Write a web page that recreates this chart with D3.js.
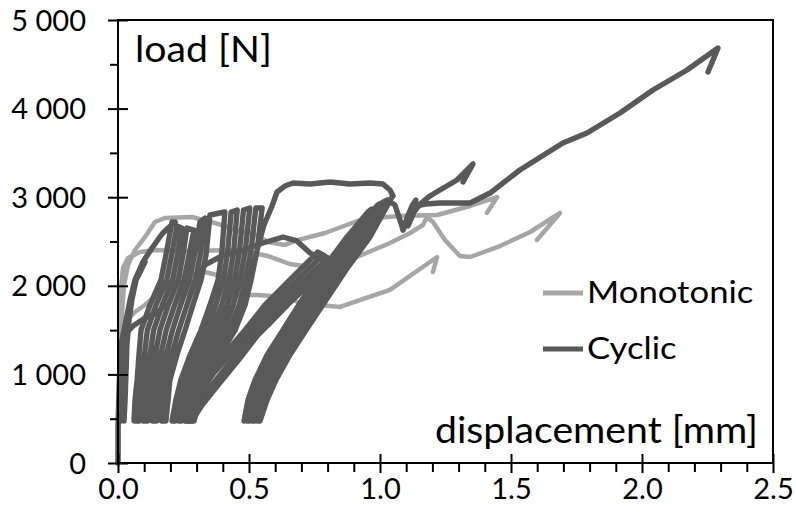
<!DOCTYPE html>
<html><head><meta charset="utf-8">
<script src="https://cdn.jsdelivr.net/npm/d3@7"></script>
<style>
html,body{margin:0;padding:0;background:#fff;}
svg{display:block;}
</style></head><body>
<svg id="chart" width="796" height="524"></svg>
<script>
// ---------------- data ----------------
const seriesNames = ["Monotonic", "Cyclic"];
const xTitle = "displacement [mm]";
const yTitle = "load [N]";
const xTicks = [0, 0.5, 1, 1.5, 2, 2.5];
const xTickLabels = ["0.0", "0.5", "1.0", "1.5", "2.0", "2.5"];
const xMinorTicks = [0.1,0.2,0.3,0.4,0.6,0.7,0.8,0.9,1.1,1.2,1.3,1.4,1.6,1.7,1.8,1.9,2.1,2.2,2.3,2.4];
const yTicks = [0, 1000, 2000, 3000, 4000, 5000];
const yTickLabels = ["0", "1 000", "2 000", "3 000", "4 000", "5 000"];
const yMinorTicks = [500, 1500, 2500, 3500, 4500];

// Monotonic tests [displacement mm, load N]
const monotonicA = [[0,0],[0.004,711],[0.011,1953],[0.019,2201],[0.038,2314],[0.084,2381],[0.141,2404],[0.267,2393],[0.447,2404],[0.534,2359],[0.573,2336],[0.656,2246],[0.763,2201],[0.847,2246],[0.912,2325],[1.038,2483],[1.115,2596],[1.164,2686],[1.179,2777],[1.202,2720],[1.248,2517],[1.305,2336],[1.344,2325],[1.458,2449],[1.573,2607],[1.687,2822],[1.599,2517]];
const monotonicB = [[0,0],[0.004,485],[0.011,1501],[0.023,2009],[0.038,2235],[0.065,2404],[0.103,2551],[0.141,2720],[0.179,2765],[0.282,2777],[0.370,2709],[0.447,2630],[0.511,2596],[0.573,2494],[0.637,2461],[0.687,2517],[0.790,2596],[0.935,2754],[1.076,2788],[1.218,2799],[1.344,2901],[1.447,3002],[1.408,2822]];
const monotonicC = [[0,0],[0.004,711],[0.011,1388],[0.027,1591],[0.065,1704],[0.103,1783],[0.160,1930],[0.218,2088],[0.332,2156],[0.408,2099],[0.458,1896],[0.534,1896],[0.637,1874],[0.695,1806],[0.847,1761],[1.038,1953],[1.218,2325],[1.202,2156]];

// Cyclic test, traced in runs [displacement mm, load N]
const cyclicRun1 = [
 [0,0],[0,429],[0.004,824],[0.008,1163],[0.015,1388],[0.027,1558],[0.046,1840],[0.065,2066],[0.095,2269],[0.130,2427],[0.168,2585],[0.191,2652],[0.218,2720],
 [0.206,2720],[0.183,2348],[0.164,2066],[0.122,1783],[0.088,1501],[0.080,1219],[0.073,937],[0.065,711],[0.061,474],
 [0.079,474],[0.083,711],[0.090,937],[0.101,1219],[0.112,1501],[0.145,1783],[0.186,2066],[0.205,2348],[0.225,2675],
 [0.244,2652],[0.227,2348],[0.208,2066],[0.169,1783],[0.136,1501],[0.122,1219],[0.108,937],[0.101,711],[0.096,474],
 [0.113,474],[0.119,711],[0.126,937],[0.142,1219],[0.160,1501],[0.192,1783],[0.230,2066],[0.248,2348],[0.263,2652],
 [0.290,2630],[0.271,2348],[0.252,2066],[0.216,1783],[0.184,1501],[0.163,1219],[0.144,937],[0.137,711],[0.131,474],
 [0.148,474],[0.155,711],[0.162,937],[0.184,1219],[0.208,1501],[0.239,1783],[0.273,2066],[0.292,2348],[0.313,2720],
 [0.332,2765],[0.314,2348],[0.295,2066],[0.263,1783],[0.232,1501],[0.205,1219],[0.180,937],[0.173,711],[0.166,474],
 [0.183,474],[0.191,711],[0.198,937],[0.225,1219],[0.256,1501],[0.286,1783],[0.317,2066],[0.336,2348],[0.351,2799],
 [0.408,2833],[0.397,2404],[0.382,2066],[0.351,1783],[0.317,1501],[0.275,1219],[0.240,937],[0.221,711],[0.206,474],
 [0.219,474],[0.235,711],[0.256,937],[0.294,1219],[0.339,1501],[0.373,1783],[0.403,2066],[0.419,2404],[0.432,2833],
 [0.455,2856],[0.442,2404],[0.424,2066],[0.396,1783],[0.360,1501],[0.313,1219],[0.271,937],[0.248,711],[0.232,474],
 [0.244,474],[0.261,711],[0.286,937],[0.332,1219],[0.382,1501],[0.418,1783],[0.445,2066],[0.464,2404],[0.479,2856],
 [0.503,2878],[0.486,2404],[0.466,2066],[0.440,1783],[0.403,1501],[0.351,1219],[0.302,937],[0.275,711],[0.257,474],
 [0.270,474],[0.288,711],[0.317,937],[0.370,1219],[0.425,1501],[0.463,1783],[0.487,2066],[0.508,2404],[0.526,2878],
 [0.550,2878],[0.531,2404],[0.508,2066],[0.485,1783],[0.447,1501],[0.389,1219],[0.332,937],[0.302,711],[0.282,474],
 [0.290,474],[0.313,711],[0.359,1050],[0.412,1388],[0.466,1727],[0.504,2066],[0.531,2404],[0.557,2686],[0.588,2901],
 [0.607,3059],[0.637,3126],[0.668,3160],[0.733,3149],[0.809,3172],[0.885,3149],[0.962,3160],[1.011,3149],[1.038,3081],[1.050,3014],
 [1.046,3002],[0.962,2551],[0.870,2178],[0.794,1840],[0.718,1501],[0.656,1219],[0.603,937],[0.569,711],[0.542,474],
 [0.532,474],[0.556,711],[0.590,937],[0.642,1219],[0.703,1501],[0.779,1840],[0.855,2178],[0.947,2551],[1.031,2968],
 [1.015,2946],[0.932,2551],[0.840,2178],[0.763,1840],[0.688,1501],[0.627,1219],[0.576,937],[0.545,711],[0.522,474],
 [0.511,474],[0.532,711],[0.563,937],[0.613,1219],[0.674,1501],[0.748,1840],[0.824,2178],[0.918,2551],[1.000,2923],
 [0.985,2890],[0.903,2551],[0.809,2178],[0.733,1840],[0.659,1501],[0.598,1219],[0.550,937],[0.520,711],[0.501,474],
 [0.491,474],[0.508,711],[0.536,937],[0.583,1219],[0.644,1501],[0.718,1840],[0.794,2178],[0.889,2551],[0.969,2867],
 [0.954,2833],[0.874,2551],[0.779,2178],[0.702,1840],[0.630,1501],[0.569,1219],[0.523,937],[0.496,711],[0.481,474]];
const cyclicRun2 = [[0.011,474],[0.015,711],[0.019,1050],[0.023,1332],[0.031,1467],[0.057,1546],[0.103,1637],[0.149,1693],[0.179,1783]];
const cyclicRun3 = [[0.023,474],[0.027,711],[0.031,1050],[0.034,1332],[0.042,1614],[0.053,1840],[0.069,2066],[0.103,2269]];
const cyclicRun4 = [[0.275,1896],[0.302,2099],[0.332,2235],[0.389,2325],[0.477,2404],[0.553,2483],[0.630,2551],[0.683,2506],[0.733,2370],[0.779,2291],[0.817,2235],
 [0.695,1930],[0.599,1637],[0.534,1445],[0.466,1185],[0.382,880],[0.321,655],[0.282,474],[0.260,474],
 [0.305,711],[0.359,880],[0.435,1163],[0.504,1445],[0.580,1704],[0.679,1975],[0.802,2314],
 [0.763,2382],[0.656,2066],[0.561,1783],[0.485,1501],[0.420,1275],[0.359,1072],[0.313,880],[0.282,711]];
const cyclicRun5 = [[0.992,2912],[1.027,2968],[1.057,2912],[1.076,2743],[1.088,2630],[1.103,2765],[1.122,2901],[1.137,2968],[1.118,2799],[1.107,2675],[1.130,2833],[1.153,2923],[1.191,3014],[1.229,3081],[1.294,3194],[1.355,3375],[1.317,3172]];
const cyclicRun6 = [[1.088,2630],[1.126,2890],[1.172,2923],[1.229,2935],[1.344,2935],[1.420,3047],[1.534,3307],[1.698,3612],[1.790,3725],[1.916,3950],[2.042,4210],[2.172,4436],[2.290,4684],[2.252,4413]];
const cyclicRun7 = [[0.275,474],[0.313,666],[0.370,880],[0.450,1174],[0.519,1445],[0.588,1670],[0.687,1953],[0.809,2269],
 [0.782,2348],[0.668,2020],[0.573,1749],[0.496,1479],[0.427,1219],[0.366,1016],[0.321,824],[0.290,655]];
const cyclicRun8 = [[0.573,1558],[0.630,1749],[0.683,1885],[0.740,2043],[0.809,2224]];

const monotonicRuns = [monotonicA, monotonicB, monotonicC];
const cyclicRuns = [cyclicRun1, cyclicRun2, cyclicRun3, cyclicRun4, cyclicRun5, cyclicRun6, cyclicRun7, cyclicRun8];

// ---------------- drawing ----------------
const FONT = "Lato, 'Open Sans', sans-serif";
const colors = {Monotonic: "#a6a6a6", Cyclic: "#595959"};
const svg = d3.select("#chart");
const x = d3.scaleLinear().domain([0, 2.5]).range([118, 773]);
const y = d3.scaleLinear().domain([0, 5000]).range([463, 20]);

const line = d3.line().x(d => x(d[0])).y(d => y(d[1]));

const gData = svg.append("g");
gData.selectAll("path.mono").data(monotonicRuns).join("path")
  .attr("class", "mono").attr("d", line)
  .attr("fill", "none").attr("stroke", colors.Monotonic).attr("stroke-width", 4.5)
  .attr("stroke-linejoin", "round").attr("stroke-linecap", "round");
gData.selectAll("path.cyc").data(cyclicRuns).join("path")
  .attr("class", "cyc").attr("d", line)
  .attr("fill", "none").attr("stroke", colors.Cyclic).attr("stroke-width", 5.4)
  .attr("stroke-linejoin", "round").attr("stroke-linecap", "round");

// frame
svg.append("rect").attr("x", x(0)).attr("y", y(5000))
  .attr("width", x(2.5) - x(0)).attr("height", y(0) - y(5000))
  .attr("fill", "none").attr("stroke", "#000").attr("stroke-width", 2);

// y axis
const yAxis = svg.append("g").attr("transform", `translate(${x(0)},0)`)
  .call(d3.axisLeft(y).tickValues(yTicks).tickSize(10).tickPadding(22)
        .tickFormat((d, i) => yTickLabels[i]));
yAxis.select(".domain").remove();
yAxis.selectAll(".tick line").attr("x2", -10).attr("x1", 10).attr("stroke-width", 2);
yAxis.selectAll("text").attr("font-family", FONT).attr("font-size", 29).attr("fill", "#000").attr("dy", "0.35em");
const yMinor = svg.append("g").attr("transform", `translate(${x(0)},0)`)
  .call(d3.axisLeft(y).tickValues(yMinorTicks).tickSize(8).tickFormat(""));
yMinor.select(".domain").remove();
yMinor.selectAll(".tick line").attr("stroke-width", 2);

// x axis
const xAxis = svg.append("g").attr("transform", `translate(0,${y(0)})`)
  .call(d3.axisBottom(x).tickValues(xTicks).tickSize(9).tickPadding(27)
        .tickFormat((d, i) => xTickLabels[i]));
xAxis.select(".domain").remove();
xAxis.selectAll(".tick line").attr("y1", -9).attr("y2", 10).attr("stroke-width", 2);
xAxis.selectAll("text").attr("font-family", FONT).attr("font-size", 29).attr("fill", "#000").attr("dy", "0");
const xMinor = svg.append("g").attr("transform", `translate(0,${y(0)})`)
  .call(d3.axisBottom(x).tickValues(xMinorTicks).tickSize(9).tickFormat(""));
xMinor.select(".domain").remove();
xMinor.selectAll(".tick line").attr("stroke-width", 2);

// titles inside plot
svg.append("text").attr("transform", `translate(${x(0) + 17},${y(5000) + 42}) scale(1.06,1)`)
  .attr("font-family", FONT).attr("font-size", 37).attr("fill", "#000").text(yTitle);
svg.append("text").attr("transform", `translate(${x(2.5) - 15},${y(0) - 20}) scale(1.06,1)`)
  .attr("text-anchor", "end")
  .attr("font-family", FONT).attr("font-size", 37).attr("fill", "#000").text(xTitle);

// legend
const legend = svg.append("g").attr("transform", "translate(543,293)");
seriesNames.forEach((name, i) => {
  const g = legend.append("g").attr("transform", `translate(0,${i * 56})`);
  g.append("line").attr("x1", 0).attr("x2", 40).attr("y1", 0).attr("y2", 0)
    .attr("stroke", colors[name]).attr("stroke-width", 5);
  g.append("text").attr("transform", "translate(44,10) scale(1.12,1)")
    .attr("font-family", FONT).attr("font-size", 31).attr("fill", "#000").text(name);
});
</script>
</body></html>
